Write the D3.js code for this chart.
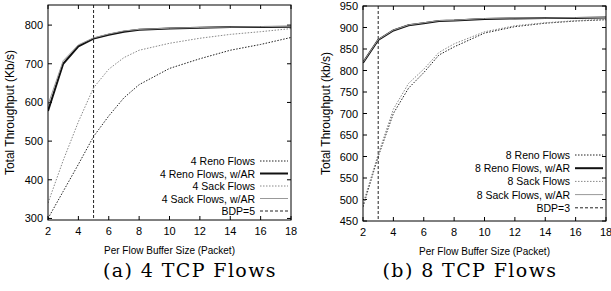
<!DOCTYPE html>
<html>
<head>
<meta charset="utf-8">
<script src="https://cdn.jsdelivr.net/npm/d3@7"></script>
<style>
  body { margin: 0; background: #fff; }
  svg text { font-family: "Liberation Sans", Arial, sans-serif; }
  svg text.caption { font-family: "DejaVu Serif", "Liberation Serif", serif; }
</style>
</head>
<body>
<svg id="viz" width="611" height="291"></svg>
<script>
// buffer sizes (packets)
var bufferSizes = [2, 3, 4, 5, 6, 7, 8, 10, 12, 14, 16, 18];
var xTicks = [2, 4, 6, 8, 10, 12, 14, 16, 18];

// (a) 4 TCP flows, Kb/s
var reno4 = [300, 370, 440, 512, 565, 612, 646, 688, 713, 735, 750, 768];
var renoAR4 = [578, 700, 745, 765, 775, 783, 788, 791, 793, 795, 795, 796];
var sack4 = [340, 450, 550, 638, 686, 716, 735, 753, 766, 776, 783, 791];
var sackAR4 = [594, 708, 749, 767, 777, 785, 789, 792, 794, 795, 796, 797];
var yTicks4 = [300, 400, 500, 600, 700, 800];

// (b) 8 TCP flows, kb/s
var reno8 = [483, 600, 700, 759, 795, 836, 855, 887, 902, 910, 915, 918];
var renoAR8 = [818, 871, 893, 905, 910, 915, 916, 920, 921, 922, 922, 923];
var sack8 = [490, 605, 710, 770, 803, 842, 862, 890, 904, 911, 916, 919];
var sackAR8 = [819, 872, 894, 906, 911, 916, 917, 921, 922, 922, 923, 923];
var yTicks8 = [450, 500, 550, 600, 650, 700, 750, 800, 850, 900, 950];

var svg = d3.select("#viz");

var styles = {
  reno: { color: "#222", width: 1, dash: "1.5,1.5" },
  renoAR: { color: "#111", width: 2, dash: null },
  sack: { color: "#888", width: 1, dash: "1.5,1.5" },
  sackAR: { color: "#999", width: 1, dash: null },
  bdp: { color: "#222", width: 1, dash: "3,2" }
};

function drawPanel(p) {
  var g = svg.append("g");
  var x = d3.scaleLinear().domain([2, 18]).range([p.left, p.right]);
  var y = d3.scaleLinear().domain(p.yDomain).range([p.bottom, p.top]);

  // ticks (gnuplot style: inward, mirrored)
  g.selectAll(".xt").data(p.xTicks).enter().append("path")
    .attr("d", function(d) {
      return "M" + x(d) + "," + p.bottom + "v-4M" + x(d) + "," + p.top + "v4";
    })
    .attr("stroke", "#000").attr("stroke-width", 1);
  g.selectAll(".yt").data(p.yTicks).enter().append("path")
    .attr("d", function(d) {
      return "M" + p.left + "," + y(d) + "h4M" + p.right + "," + y(d) + "h-4";
    })
    .attr("stroke", "#000").attr("stroke-width", 1);

  g.selectAll(".xl").data(p.xTicks).enter().append("text")
    .attr("x", function(d) { return x(d); })
    .attr("y", p.bottom + 15)
    .attr("text-anchor", "middle")
    .attr("font-size", 11)
    .text(function(d) { return d; });
  g.selectAll(".yl").data(p.yTicks).enter().append("text")
    .attr("x", p.left - 5)
    .attr("y", function(d) { return y(d) + 4; })
    .attr("text-anchor", "end")
    .attr("font-size", 11)
    .text(function(d) { return d; });

  // axis titles
  g.append("text")
    .attr("x", (p.left + p.right) / 2)
    .attr("y", p.bottom + 34)
    .attr("text-anchor", "middle")
    .attr("font-size", 10)
    .text("Per Flow Buffer Size (Packet)");
  g.append("text")
    .attr("transform", "translate(" + p.yLabelX + "," + (p.top + p.bottom) / 2 + ") rotate(-90)")
    .attr("text-anchor", "middle")
    .attr("font-size", 12)
    .text(p.yLabel);

  // caption
  g.append("text")
    .attr("class", "caption")
    .attr("x", p.captionX)
    .attr("y", 277)
    .attr("text-anchor", "middle")
    .attr("font-size", 19)
    .attr("letter-spacing", 1.4)
    .text(p.caption);

  var clip = "clip" + p.id;
  svg.append("clipPath").attr("id", clip).append("rect")
    .attr("x", p.left).attr("y", p.top)
    .attr("width", p.right - p.left).attr("height", p.bottom - p.top);

  var line = d3.line()
    .x(function(d) { return x(d[0]); })
    .y(function(d) { return y(d[1]); });

  var plot = g.append("g").attr("clip-path", "url(#" + clip + ")");

  // BDP line
  plot.append("line")
    .attr("x1", x(p.bdp)).attr("x2", x(p.bdp))
    .attr("y1", p.top).attr("y2", p.bottom)
    .attr("stroke", styles.bdp.color)
    .attr("stroke-width", styles.bdp.width)
    .attr("stroke-dasharray", styles.bdp.dash);

  p.series.forEach(function(s) {
    var st = styles[s.key];
    plot.append("path")
      .datum(d3.zip(bufferSizes, s.values))
      .attr("d", line)
      .attr("fill", "none")
      .attr("stroke", st.color)
      .attr("stroke-width", st.width)
      .attr("stroke-dasharray", st.dash);
  });

  // legend
  var legendItems = p.series.map(function(s) { return { label: s.label, key: s.key }; });
  legendItems.push({ label: "BDP=" + p.bdp, key: "bdp" });
  var lg = g.selectAll(".lg").data(legendItems).enter().append("g")
    .attr("transform", function(d, i) {
      return "translate(0," + (p.legendY + i * p.legendStep) + ")";
    });
  lg.append("text")
    .attr("x", p.legendTextX)
    .attr("y", 4)
    .attr("text-anchor", "end")
    .attr("font-size", 10.5)
    .text(function(d) { return d.label; });
  lg.append("line")
    .attr("x1", p.legendTextX + 5).attr("x2", p.legendTextX + 33)
    .attr("y1", 0).attr("y2", 0)
    .attr("stroke", function(d) { return styles[d.key].color; })
    .attr("stroke-width", function(d) { return styles[d.key].width; })
    .attr("stroke-dasharray", function(d) { return styles[d.key].dash; });

  // frame
  g.append("rect")
    .attr("x", p.left).attr("y", p.top)
    .attr("width", p.right - p.left).attr("height", p.bottom - p.top)
    .attr("fill", "none").attr("stroke", "#000").attr("stroke-width", 1);
}

drawPanel({
  id: "a",
  left: 48, right: 291, top: 5, bottom: 220,
  yDomain: [296, 852],
  xTicks: xTicks, yTicks: yTicks4,
  yLabel: "Total Throughput (Kb/s)", yLabelX: 14,
  caption: "(a) 4 TCP Flows", captionX: 190,
  bdp: 5,
  legendTextX: 255, legendY: 161, legendStep: 12.5,
  series: [
    { key: "reno", label: "4 Reno Flows", values: reno4 },
    { key: "renoAR", label: "4 Reno Flows, w/AR", values: renoAR4 },
    { key: "sack", label: "4 Sack Flows", values: sack4 },
    { key: "sackAR", label: "4 Sack Flows, w/AR", values: sackAR4 }
  ]
});

drawPanel({
  id: "b",
  left: 363, right: 606, top: 6, bottom: 221,
  yDomain: [450, 950],
  xTicks: xTicks, yTicks: yTicks8,
  yLabel: "Total Throughput (kb/s)", yLabelX: 330,
  caption: "(b) 8 TCP Flows", captionX: 470,
  bdp: 3,
  legendTextX: 570, legendY: 155, legendStep: 13.2,
  series: [
    { key: "reno", label: "8 Reno Flows", values: reno8 },
    { key: "renoAR", label: "8 Reno Flows, w/AR", values: renoAR8 },
    { key: "sack", label: "8 Sack Flows", values: sack8 },
    { key: "sackAR", label: "8 Sack Flows, w/AR", values: sackAR8 }
  ]
});
</script>
</body>
</html>
